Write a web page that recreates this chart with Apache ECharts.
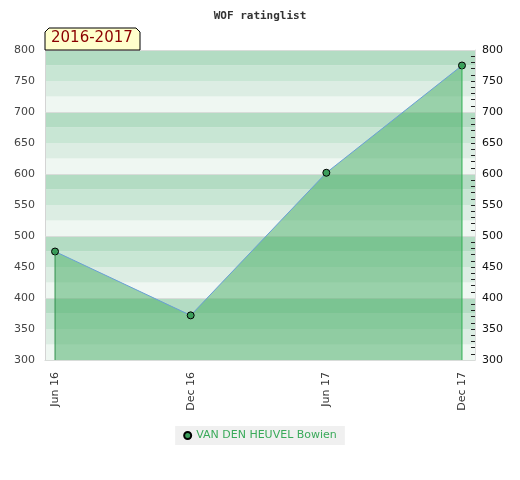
<!DOCTYPE html>
<html>
<head>
<meta charset="utf-8">
<script src="https://cdn.jsdelivr.net/npm/echarts@6/dist/echarts.min.js"></script>
<style>html,body{margin:0;padding:0;background:#fff;}#c{width:520px;height:480px;}</style>
</head>
<body>
<div id="c"></div>
<script>
var categories = ['Jun 16', 'Dec 16', 'Jun 17', 'Dec 17'];
var ratings = [475, 372, 602, 775];
var seriesName = 'VAN DEN HEUVEL Bowien';
var seasonLabel = '2016-2017';
var yMin = 300, yMax = 800;

var points = ratings.map(function (v, i) { return [i, v]; });
var last = ratings.length - 1;

function edgeSeries(i, color) {
  return {
    type: 'line', data: [[i, ratings[i]], [i, yMin]], yAxisIndex: 0,
    symbol: 'none', silent: true, z: 6,
    lineStyle: { color: color, width: 1 }
  };
}

var chart = echarts.init(document.getElementById('c'));
chart.setOption({
  animation: false,
  title: {
    text: 'WOF ratinglist', left: 'center', top: 6,
    textStyle: { fontFamily: 'DejaVu Sans Mono', fontSize: 11, fontWeight: 'bold', color: '#333' }
  },
  grid: { left: 45, right: 45, top: 50, bottom: 120, show: false },
  legend: {
    bottom: 35, left: 'center', icon: 'circle', itemWidth: 7, itemHeight: 7, itemGap: 6,
    backgroundColor: '#f0f0f0', padding: [4, 8], borderRadius: 0,
    textStyle: { color: '#3aaa5a', fontSize: 11, fontFamily: 'DejaVu Sans' },
    data: [seriesName]
  },
  xAxis: {
    type: 'value', min: -0.074, max: last + 0.096,
    axisLine: { show: true, onZero: false, lineStyle: { color: '#d4d4d4' } },
    axisTick: { show: false },
    splitLine: { show: false },
    axisLabel: {
      customValues: categories.map(function (c, i) { return i; }),
      rotate: 90, margin: 12, color: '#333', fontSize: 11, fontFamily: 'DejaVu Sans',
      formatter: function (v) { return categories[Math.round(v)]; }
    }
  },
  yAxis: [
    {
      type: 'value', min: yMin, max: yMax, interval: 50, position: 'left',
      axisLine: { show: true, onZero: false, lineStyle: { color: '#d4d4d4' } },
      axisTick: { show: false }, splitLine: { show: false },
      axisLabel: { color: '#444', fontSize: 11, fontFamily: 'DejaVu Sans', margin: 10 }
    },
    {
      type: 'value', min: yMin, max: yMax, interval: 50, position: 'right',
      axisLine: { show: true, onZero: false, lineStyle: { color: '#e0e0e0' } },
      axisTick: { show: true, inside: true, length: 4, lineStyle: { color: '#222' } },
      minorTick: { show: true, splitNumber: 5, length: 4, lineStyle: { color: '#222' } },
      splitLine: { show: false },
      axisLabel: { color: '#111', fontSize: 11, fontFamily: 'DejaVu Sans', margin: 7 }
    },
    {
      type: 'value', min: yMin, max: yMax, interval: 25, position: 'left', z: 0,
      axisLine: { show: false, onZero: false }, axisTick: { show: false }, axisLabel: { show: false },
      splitLine: { show: false },
      splitArea: { show: true, areaStyle: { color: ['#eff7f2', '#dcede3', '#c8e6d4', '#b3dcc3'] } }
    },
    {
      type: 'value', min: yMin, max: yMax, interval: 100, position: 'left', z: 1,
      axisLine: { show: false, onZero: false }, axisTick: { show: false }, axisLabel: { show: false },
      splitLine: { show: true, lineStyle: { color: '#d8dcd9', width: 1 } }
    }
  ],
  graphic: [
    {
      type: 'polygon', z: 100,
      shape: { points: [[45, 50], [45, 32], [49, 28], [136, 28], [140, 32], [140, 50]] },
      style: { fill: '#ffffcc', stroke: '#000', lineWidth: 1 }
    },
    {
      type: 'text', z: 101, left: 51, top: 31,
      style: { text: seasonLabel, fill: '#8b0000', font: '15px "DejaVu Sans"' }
    }
  ],
  series: [
    {
      name: seriesName, type: 'line', data: points, yAxisIndex: 0,
      symbol: 'circle', symbolSize: 7,
      itemStyle: { color: '#3c9e5c', borderColor: '#000', borderWidth: 1 },
      lineStyle: { color: '#6a9fd6', width: 1 },
      areaStyle: { color: 'rgb(67,172,98)', opacity: 0.5, origin: 'start' },
      z: 5
    },
    edgeSeries(0, '#2f8f4c'),
    edgeSeries(last, '#2fb052')
  ]
});
</script>
</body>
</html>
